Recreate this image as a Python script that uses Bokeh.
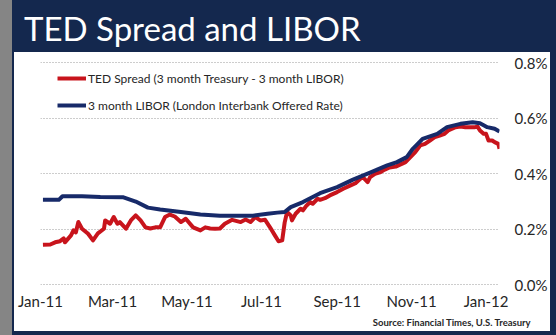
import pandas as pd
from datetime import datetime
from bokeh.plotting import figure
from bokeh.models import (Range1d, FixedTicker, DatetimeTickFormatter, PrintfTickFormatter,
                          Legend, LegendItem, Title, Div, Row, Column)
from bokeh.embed import file_html
from bokeh.resources import INLINE

TITLE = "TED Spread and LIBOR"
SOURCE = "Source:  Financial Times, U.S. Treasury"
TED_LABEL = "TED Spread (3 month Treasury - 3 month LIBOR)"
LIBOR_LABEL = "3 month LIBOR (London Interbank Offered Rate)"

tick_dates = ["2011-01-01", "2011-03-01", "2011-05-01", "2011-07-01",
              "2011-09-01", "2011-11-01", "2012-01-01"]
tick_labels = ["Jan-11", "Mar-11", "May-11", "Jul-11", "Sep-11", "Nov-11", "Jan-12"]
y_ticks = [0.0, 0.2, 0.4, 0.6, 0.8]

libor_dates = ["2011-01-03", "2011-01-16", "2011-01-19", "2011-02-04", "2011-02-19",
               "2011-03-10", "2011-03-20", "2011-03-30", "2011-04-09", "2011-04-26",
               "2011-05-12", "2011-05-28", "2011-06-24", "2011-07-06", "2011-07-14",
               "2011-07-20", "2011-07-25", "2011-08-04", "2011-08-18", "2011-09-01",
               "2011-09-14", "2011-09-28", "2011-10-12", "2011-10-20", "2011-10-28",
               "2011-11-02", "2011-11-10", "2011-11-22", "2011-11-30", "2011-12-11",
               "2011-12-21", "2011-12-27", "2012-01-02", "2012-01-08", "2012-01-12"]
libor_values = [0.305, 0.305, 0.318, 0.318, 0.315,
                0.314, 0.299, 0.277, 0.270, 0.261,
                0.252, 0.248, 0.248, 0.255, 0.259,
                0.261, 0.279, 0.297, 0.329, 0.351,
                0.378, 0.403, 0.429, 0.441, 0.459,
                0.489, 0.525, 0.543, 0.567, 0.579,
                0.585, 0.581, 0.567, 0.561, 0.551]

ted_dates = ["2011-01-03", "2011-01-09", "2011-01-13", "2011-01-17", "2011-01-20", "2011-01-21", "2011-01-26", "2011-01-28", "2011-01-30", "2011-02-01",
             "2011-02-04", "2011-02-09", "2011-02-13", "2011-02-17", "2011-02-22", "2011-02-23", "2011-02-27", "2011-03-02", "2011-03-05", "2011-03-07",
             "2011-03-12", "2011-03-16", "2011-03-20", "2011-03-24", "2011-03-28", "2011-04-01", "2011-04-05", "2011-04-09", "2011-04-13", "2011-04-17",
             "2011-04-21", "2011-04-26", "2011-04-30", "2011-05-06", "2011-05-12", "2011-05-16", "2011-05-20", "2011-05-24", "2011-05-28", "2011-06-01",
             "2011-06-07", "2011-06-14", "2011-06-18", "2011-06-22", "2011-06-26", "2011-06-30", "2011-07-04", "2011-07-08", "2011-07-12", "2011-07-15",
             "2011-07-18", "2011-07-20", "2011-07-22", "2011-07-25", "2011-07-26", "2011-07-29", "2011-08-02", "2011-08-04", "2011-08-07", "2011-08-10",
             "2011-08-12", "2011-08-16", "2011-08-18", "2011-08-22", "2011-08-26", "2011-09-01", "2011-09-06", "2011-09-12", "2011-09-16", "2011-09-20",
             "2011-09-22", "2011-09-26", "2011-09-28", "2011-10-02", "2011-10-06", "2011-10-10", "2011-10-14", "2011-10-19", "2011-10-27", "2011-10-31",
             "2011-11-04", "2011-11-08", "2011-11-12", "2011-11-16", "2011-11-20", "2011-11-24", "2011-11-28", "2011-12-01", "2011-12-07", "2011-12-11",
             "2011-12-15", "2011-12-19", "2011-12-23", "2011-12-25", "2011-12-27", "2011-12-30", "2012-01-01", "2012-01-03", "2012-01-06", "2012-01-08",
             "2012-01-11", "2012-01-12"]
ted_values = [0.143, 0.144, 0.152, 0.156, 0.166, 0.152, 0.177, 0.195, 0.188, 0.225,
              0.201, 0.183, 0.159, 0.184, 0.201, 0.231, 0.219, 0.243, 0.219, 0.225,
              0.201, 0.231, 0.249, 0.231, 0.206, 0.202, 0.206, 0.206, 0.243, 0.252,
              0.245, 0.225, 0.237, 0.206, 0.195, 0.206, 0.202, 0.201, 0.202, 0.219,
              0.233, 0.225, 0.234, 0.225, 0.243, 0.231, 0.233, 0.206, 0.177, 0.156,
              0.159, 0.223, 0.261, 0.249, 0.231, 0.255, 0.273, 0.267, 0.285, 0.297,
              0.291, 0.309, 0.305, 0.311, 0.321, 0.333, 0.345, 0.357, 0.365, 0.381,
              0.387, 0.369, 0.387, 0.399, 0.404, 0.414, 0.422, 0.425, 0.441, 0.459,
              0.477, 0.501, 0.507, 0.519, 0.531, 0.537, 0.543, 0.555, 0.567, 0.569,
              0.567, 0.567, 0.567, 0.569, 0.555, 0.543, 0.543, 0.519, 0.519, 0.513,
              0.507, 0.489]

NAVY = "#14284e"
GRAY = "#858585"
RED = "#c8141c"
BLUE = "#172a69"
TEXT = "#262626"
FONT = "Lato"

# one pixel of padding above 0.8% and below 0.0% so both edge gridlines show
pad = 0.8 / 222
p = figure(width=536, height=279, x_axis_type="datetime", y_axis_location="right",
           x_range=Range1d(datetime(2011, 1, 1), datetime(2012, 1, 12)),
           y_range=Range1d(y_ticks[0] - pad, y_ticks[-1] + pad),
           toolbar_location=None, output_backend="svg",
           min_border_left=26, min_border_right=50, min_border_top=9, min_border_bottom=46)
p.margin = (0, 0, 4, 2)
p.styles = {"background-color": "white"}
p.outline_line_color = None
p.background_fill_color = "white"
p.border_fill_color = "white"

tick_ms = [pd.Timestamp(d).timestamp() * 1000 for d in tick_dates]
p.xaxis.ticker = FixedTicker(ticks=tick_ms)
p.xaxis.formatter = DatetimeTickFormatter(days="%b-%y", months="%b-%y", years="%b-%y")
p.xaxis.major_label_overrides = {t: lab for t, lab in zip(tick_ms, tick_labels)}
p.yaxis.ticker = FixedTicker(ticks=y_ticks)
p.yaxis.formatter = PrintfTickFormatter(format="%.1f%%")

for ax in (p.xaxis[0], p.yaxis[0]):
    ax.axis_line_color = None
    ax.major_tick_line_color = None
    ax.minor_tick_line_color = None
    ax.major_tick_out = 0
    ax.major_tick_in = 0
    ax.minor_tick_out = 0
    ax.minor_tick_in = 0
    ax.major_label_text_font = FONT
    ax.major_label_text_font_size = "15px"
    ax.major_label_text_color = TEXT
p.xaxis.major_label_standoff = 6
p.yaxis.major_label_standoff = 15

p.xgrid.visible = False
p.ygrid.grid_line_color = "#9a9a9a"
p.ygrid.grid_line_dash = "1 2"
p.ygrid.grid_line_width = 1

r_ted = p.line(pd.to_datetime(ted_dates), ted_values, line_color=RED, line_width=4,
               line_join="round")
r_libor = p.line(pd.to_datetime(libor_dates), libor_values, line_color=BLUE, line_width=4,
                 line_join="round")

legend = Legend(items=[LegendItem(label=TED_LABEL, renderers=[r_ted]),
                       LegendItem(label=LIBOR_LABEL, renderers=[r_libor])],
                location=(17, 170), border_line_color=None, background_fill_alpha=0,
                padding=0, margin=0, spacing=7, glyph_width=29, glyph_height=20,
                label_height=20, label_standoff=2, label_text_font=FONT,
                label_text_font_size="12px", label_text_color=TEXT)
p.add_layout(legend)

p.add_layout(Title(text=SOURCE, align="right", text_font=FONT, text_font_style="bold",
                   text_font_size="9.5px", text_color=TEXT, standoff=4, offset=-34), "below")

title_div = Div(text=TITLE, width=532, height=43, margin=(9, 0, 0, 12),
                styles={"color": "white", "font-family": FONT, "font-size": "33px",
                        "line-height": "1.2", "white-space": "nowrap"})
col = Column(children=[title_div, p], spacing=0, styles={"background-color": NAVY})
strip = Div(text="", width=12, height=335, margin=0, styles={"background-color": GRAY})
layout = Row(children=[strip, col], spacing=0)

open("out.html", "w").write(file_html(layout, INLINE))
